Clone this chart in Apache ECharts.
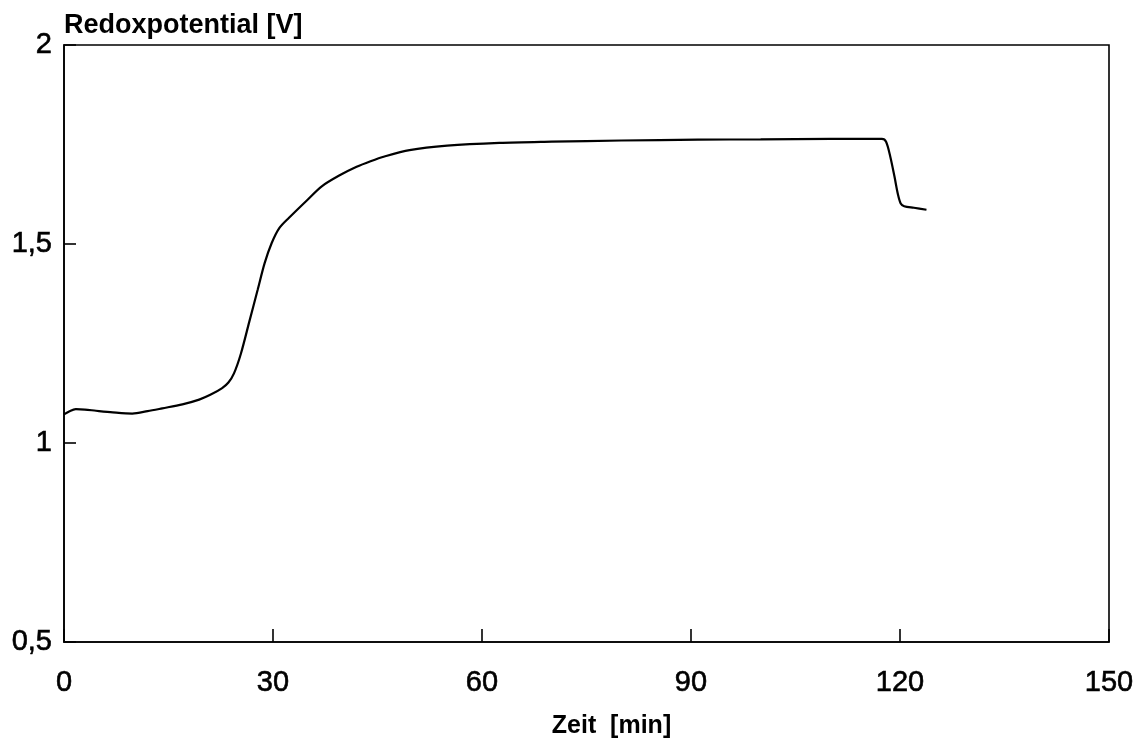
<!DOCTYPE html>
<html>
<head>
<meta charset="utf-8">
<script src="https://cdn.jsdelivr.net/npm/echarts@6/dist/echarts.min.js"></script>
<style>
  html, body { margin: 0; padding: 0; background: #fff; }
  #chart { width: 1140px; height: 744px; }
</style>
</head>
<body>
<div id="chart"></div>
<script>
// Redox potential over time
const timeMin = [0, 0.8, 1.7, 3, 4.6, 7, 9.8, 12, 14.1, 17, 19.4, 21, 22.7, 23.6, 24.4, 25.4,
  26.6, 27.8, 28.8, 29.8, 30.9, 32.3, 35.0, 37, 39.5, 42, 44, 46, 49.6, 55, 62.5, 70, 80,
  91, 100, 110, 117.4, 118.0, 118.6, 119.2, 119.7, 120.1, 120.6, 122, 123.8];
const potentialV = [1.072, 1.080, 1.085, 1.084, 1.081, 1.077, 1.074, 1.080, 1.087, 1.097, 1.109,
  1.121, 1.138, 1.152, 1.175, 1.225, 1.305, 1.385, 1.452, 1.502, 1.540, 1.566, 1.612, 1.645,
  1.672, 1.694, 1.708, 1.720, 1.736, 1.747, 1.754, 1.757, 1.760, 1.762, 1.763, 1.764, 1.764,
  1.757, 1.72, 1.67, 1.625, 1.602, 1.595, 1.591, 1.586];
const xTicks = [0, 30, 60, 90, 120, 150];
const yTicks = [0.5, 1, 1.5, 2];

const FONT = '"Liberation Sans", Arial, Helvetica, sans-serif';
const labelStyle = { fontFamily: FONT, fontSize: 29, color: '#000', textBorderColor: '#000', textBorderWidth: 0.6 };
const chart = echarts.init(document.getElementById('chart'));

chart.setOption({
  animation: false,
  backgroundColor: '#fff',
  grid: { left: 64, right: 31, top: 45, bottom: 96, show: true, borderColor: '#000', borderWidth: 1.6, backgroundColor: 'transparent' },
  title: {
    text: 'Redoxpotential [V]', left: 59, top: 7,
    textStyle: { fontFamily: FONT, fontSize: 27, fontWeight: 'bold', color: '#000' }
  },
  xAxis: {
    type: 'value', min: xTicks[0], max: xTicks[xTicks.length - 1], interval: 30,
    name: 'Zeit  [min]', nameLocation: 'middle', nameGap: 72,
    nameTextStyle: { fontFamily: FONT, fontSize: 25, fontWeight: 'bold', color: '#000', padding: [0, 0, 0, 50] },
    axisLine: { show: true, onZero: false, lineStyle: { color: '#000', width: 1.6 } },
    axisTick: { show: true, inside: true, length: 13, lineStyle: { color: '#000', width: 1.6 } },
    axisLabel: Object.assign({ margin: 26, formatter: v => String(v) }, labelStyle),
    splitLine: { show: false }
  },
  yAxis: {
    type: 'value', min: yTicks[0], max: yTicks[yTicks.length - 1], interval: 0.5,
    axisLine: { show: true, onZero: false, lineStyle: { color: '#000', width: 1.6 } },
    axisTick: { show: true, inside: true, length: 12, lineStyle: { color: '#000', width: 1.6 } },
    axisLabel: Object.assign({ margin: 12, formatter: v => String(v).replace('.', ',') }, labelStyle),
    splitLine: { show: false }
  },
  series: [{
    type: 'line',
    data: timeMin.map((t, i) => [t, potentialV[i]]),
    showSymbol: false,
    smooth: 0.3,
    lineStyle: { color: '#000', width: 2.2 }
  }]
});
</script>
</body>
</html>
